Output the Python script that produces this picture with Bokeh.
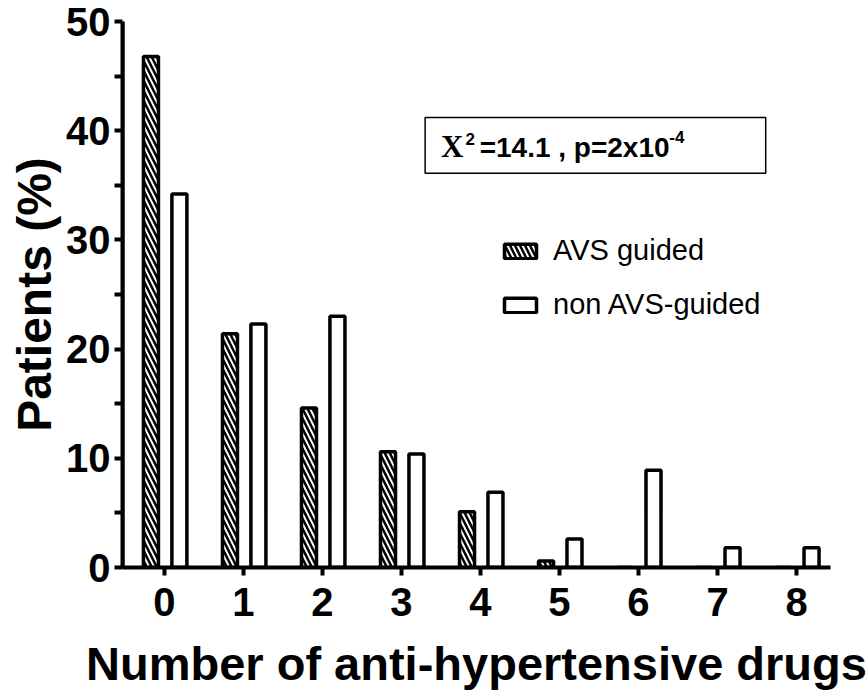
from bokeh.plotting import figure
from bokeh.models import (ColumnDataSource, Legend, LegendItem, Label, BoxAnnotation,
                          FixedTicker, Range1d, Title, Span)
from bokeh.embed import file_html
from bokeh.resources import INLINE
from bokeh.transform import dodge

# ---- data ----
drugs = [0, 1, 2, 3, 4, 5, 6, 7, 8]
avs_guided = [46.8, 21.4, 14.6, 10.6, 5.1, 0.6, 0.0, 0.0, 0.0]
non_avs_guided = [34.2, 22.3, 23.0, 10.4, 6.9, 2.6, 8.9, 1.8, 1.8]
y_ticks = [0, 10, 20, 30, 40, 50]
y_minor = [5, 15, 25, 35, 45]
series_names = ["AVS guided", "non AVS-guided"]

src = ColumnDataSource(dict(x=drugs, avs=avs_guided, non=non_avs_guided))

X0, X1 = -0.53, 8.43
p = figure(width=866, height=692, output_backend="svg", toolbar_location=None,
           x_range=Range1d(X0, X1), y_range=Range1d(0, 50),
           min_border_left=122, min_border_right=36, min_border_top=21, min_border_bottom=124)
p.outline_line_color = None
p.xgrid.visible = False
p.ygrid.visible = False

bw = 0.19
r1 = p.vbar(x=dodge("x", -0.17), top="avs", width=bw, source=src,
            fill_color="white", line_color="black", line_width=3.5,
            hatch_pattern="left_diagonal_line", hatch_color="black",
            hatch_scale=10, hatch_weight=2.5)
r2 = p.vbar(x=dodge("x", 0.19), top="non", width=bw, source=src,
            fill_color="white", line_color="black", line_width=3.5)

FONT = "Liberation Sans"
xa = p.xaxis[0]
ya = p.yaxis[0]
for ax in (xa, ya):
    ax.axis_line_width = 4
    ax.axis_line_color = "black"
    ax.major_tick_line_width = 4
    ax.major_tick_line_color = "black"
    ax.major_tick_out = 8
    ax.major_tick_in = 0
    ax.major_label_text_font = FONT
    ax.major_label_text_font_style = "bold"
    ax.major_label_text_font_size = "40px"
    ax.major_label_text_color = "black"

xa.ticker = FixedTicker(ticks=drugs)
xa.minor_tick_line_color = None
xa.major_label_standoff = 12
xa.axis_label = "Number of anti-hypertensive drugs"
xa.axis_label_text_font = FONT
xa.axis_label_text_font_style = "bold"
xa.axis_label_text_color = "black"
xa.axis_label_text_font_size = "47px"
xa.axis_label_standoff = 18

ya.ticker = FixedTicker(ticks=y_ticks, minor_ticks=y_minor)
ya.minor_tick_line_width = 4
ya.minor_tick_line_color = "black"
ya.minor_tick_out = 8
ya.minor_tick_in = 0
ya.major_label_standoff = 4

# solid left spine along the frame edge
p.add_layout(Span(location=X0, dimension="height", line_color="black", line_width=4))

p.add_layout(Title(text="Patients (%)", align="center", text_font=FONT,
                   text_font_style="bold", text_font_size="48px", text_color="black",
                   standoff=6), "left")

# legend
legend = Legend(items=[LegendItem(label=series_names[0], renderers=[r1]),
                       LegendItem(label=series_names[1], renderers=[r2])],
                location=(378, 246), border_line_color=None, background_fill_alpha=0,
                padding=0, margin=0, glyph_width=40, glyph_height=18,
                label_height=28, spacing=21, label_standoff=13,
                label_text_font=FONT, label_text_font_size="29px", label_text_color="black")
p.add_layout(legend, "center")

# statistics box
p.add_layout(BoxAnnotation(left=3.30, right=7.61, bottom=36.1, top=41.2,
                           fill_color="white", fill_alpha=1, line_color="black",
                           line_alpha=1, line_width=1.5))
p.add_layout(Label(x=3.50, y=38.55, text="X", text_font="Liberation Serif",
                   text_font_style="bold", text_font_size="31px", text_color="black",
                   text_baseline="middle"))
p.add_layout(Label(x=3.81, y=39.2, text="2", text_font=FONT,
                   text_font_style="bold", text_font_size="17px", text_color="black",
                   text_baseline="middle"))
p.add_layout(Label(x=3.99, y=38.48, text="=14.1 , p=2x10", text_font=FONT,
                   text_font_style="bold", text_font_size="28px", text_color="black",
                   text_baseline="middle"))
p.add_layout(Label(x=6.39, y=39.4, text="-4", text_font=FONT,
                   text_font_style="bold", text_font_size="17px", text_color="black",
                   text_baseline="middle"))

open("out.html", "w").write(file_html(p, INLINE))
